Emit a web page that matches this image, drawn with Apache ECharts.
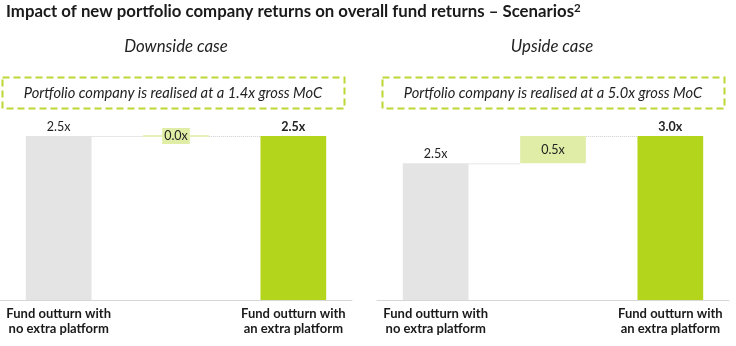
<!DOCTYPE html>
<html>
<head>
<meta charset="utf-8">
<script src="https://cdn.jsdelivr.net/npm/echarts@6/dist/echarts.min.js"></script>
<style>
html,body{margin:0;padding:0;background:#fff;}
#chart{width:736px;height:346px;}
</style>
</head>
<body>
<div id="chart"></div>
<script>
// ---- Data ----
const categories = ['Fund outturn with\nno extra platform', '', 'Fund outturn with\nan extra platform'];
const downsideValues = [2.5, 0.0, 2.5];   // start, change, end
const upsideValues = [2.5, 0.5, 3.0];     // start, change, end
const panelTitles = ['Downside case', 'Upside case'];
const boxTexts = ['Portfolio company is realised at a 1.4x gross MoC', 'Portfolio company is realised at a 5.0x gross MoC'];
const mainTitle = 'Impact of new portfolio company returns on overall fund returns \u2013 Scenarios';

// ---- Styling ----
const GRAY = '#e4e4e4', GREEN = '#b3d51c', LIGHT = '#e0eda6', DASH = '#bcd834';
const FONT = 'Lato';
const BAR_FRAC = 0.56;

const panels = [
  { values: downsideValues, left: 0, width: 352, max: 2.5 },
  { values: upsideValues, left: 377, width: 352, max: 3.0 }
];

const grids = [], xAxes = [], yAxes = [], series = [];
panels.forEach((p, k) => {
  const v = p.values;
  grids.push({ left: p.left, width: p.width, top: 136, height: 164 });
  xAxes.push({
    type: 'category', gridIndex: k, data: categories,
    axisTick: { show: false },
    axisLine: { lineStyle: { color: '#d6d6d6', width: 1 } },
    axisLabel: { interval: 0, fontFamily: FONT, fontWeight: 'bold', fontSize: 13, lineHeight: 15, color: '#1a1a1a', margin: 6 }
  });
  yAxes.push({ type: 'value', gridIndex: k, min: 0, max: p.max, show: false, splitLine: { show: false } });
  const base = [0, v[1] >= 0 ? v[0] : v[0] + v[1], 0];
  series.push({
    type: 'bar', stack: 's' + k, xAxisIndex: k, yAxisIndex: k, barWidth: (BAR_FRAC * 100) + '%',
    itemStyle: { color: 'transparent' }, silent: true, data: base
  });
  series.push({
    type: 'bar', stack: 's' + k, xAxisIndex: k, yAxisIndex: k, barWidth: (BAR_FRAC * 100) + '%',
    data: [
      { value: v[0], itemStyle: { color: GRAY },
        label: { show: true, position: 'top', distance: 3, formatter: v[0].toFixed(1) + 'x', fontFamily: FONT, fontSize: 12.5, color: '#222' } },
      { value: Math.abs(v[1]), itemStyle: { color: LIGHT },
        label: { show: true, position: 'inside', formatter: v[1].toFixed(1) + 'x', fontFamily: FONT, fontSize: 12.5, color: '#222',
                 backgroundColor: LIGHT, padding: [2, 2, 1, 2] } },
      { value: v[2], itemStyle: { color: GREEN },
        label: { show: true, position: 'top', distance: 3, formatter: v[2].toFixed(1) + 'x', fontFamily: FONT, fontWeight: 'bold', fontSize: 12.5, color: '#222' } }
    ]
  });
  // connectors between bars
  const connData = [[0, v[0], 0], [1, v[0] + v[1], 0]];
  if (v[1] === 0) connData.push([1, v[0], 1]);
  series.push({
    type: 'custom', xAxisIndex: k, yAxisIndex: k, silent: true, z: 1, clip: false,
    data: connData,
    renderItem: function (params, api) {
      const i = api.value(0), lvl = api.value(1), zero = api.value(2);
      const bw = api.size([1, 0])[0] * BAR_FRAC;
      if (zero) {
        const c = api.coord([i, lvl]);
        return { type: 'line', shape: { x1: c[0] - bw / 2, y1: c[1], x2: c[0] + bw / 2, y2: c[1] },
                 style: { stroke: LIGHT, lineWidth: 1.5 } };
      }
      const a = api.coord([i, lvl]), b = api.coord([i + 1, lvl]);
      return { type: 'line', shape: { x1: a[0] + bw / 2, y1: a[1] + 0.5, x2: b[0] - bw / 2, y2: a[1] + 0.5 },
               style: { stroke: '#cfcfcf', lineWidth: 1, lineDash: [1, 1] } };
    }
  });
});

const graphic = [
  { type: 'text', left: 6, top: 2, style: {
      text: mainTitle + '{sup|2}', fontFamily: FONT, fontWeight: 'bold', fontSize: 16.8, fill: '#1a1a1a',
      rich: { sup: { fontSize: 11.5, fontFamily: FONT, fontWeight: 'bold', fill: '#1a1a1a', verticalAlign: 'top', padding: [0, 0, 7, 0] } } } },
];
[176, 552].forEach((cx, k) => {
  graphic.push({ type: 'text', x: cx, y: 47, style: { text: panelTitles[k], fontFamily: FONT, fontStyle: 'italic', fontSize: 16.8, fill: '#222', align: 'center', verticalAlign: 'middle' } });
});
[[2, 342], [382, 342]].forEach((r, k) => {
  graphic.push({ type: 'rect', shape: { x: r[0] + 0.5, y: 77.5, width: r[1], height: 31 },
                 style: { fill: 'none', stroke: DASH, lineWidth: 2, lineDash: [7, 4] } });
  graphic.push({ type: 'text', x: r[0] + r[1] / 2, y: 93, style: { text: boxTexts[k], fontFamily: FONT, fontStyle: 'italic', fontSize: 14.7, fill: '#222', align: 'center', verticalAlign: 'middle' } });
});

const chart = echarts.init(document.getElementById('chart'));
chart.setOption({
  animation: false,
  grid: grids, xAxis: xAxes, yAxis: yAxes, series: series, graphic: graphic
});
</script>
</body>
</html>
